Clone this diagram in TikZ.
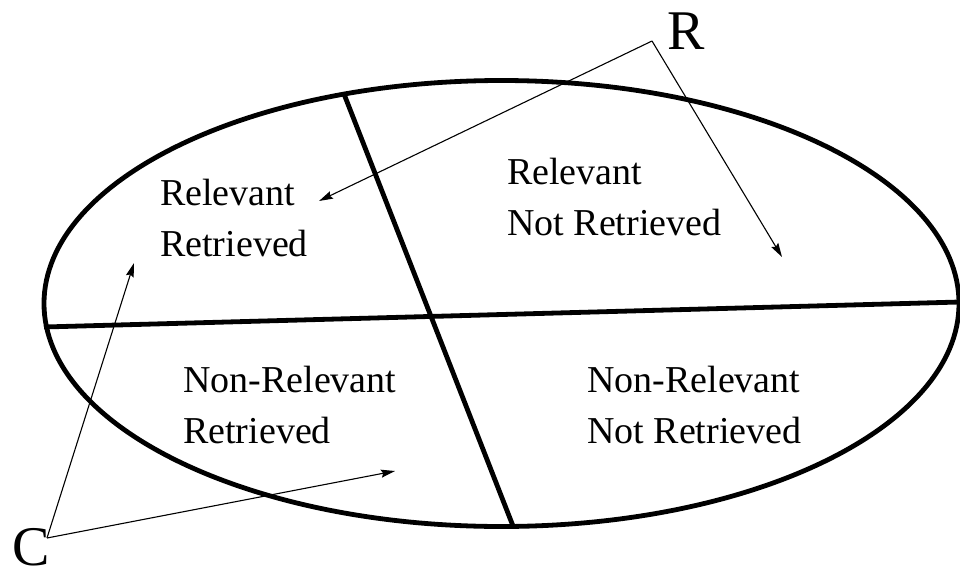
\documentclass[tikz,border=0pt]{standalone}
\usepackage{fontspec}
\setmainfont{Liberation Serif}
\usetikzlibrary{arrows.meta}
\tikzset{
  thickline/.style={line width=4.8pt},
  pointer/.style={line width=1.1pt,-{Stealth[length=14pt,width=8pt,inset=2pt]}},
  celltext/.style={anchor=base west,inner sep=0pt,align=left,font=\fontsize{38}{51}\selectfont},
  bigletter/.style={anchor=base west,inner sep=0pt,font=\fontsize{56}{60}\selectfont}
}
\begin{document}
\begin{tikzpicture}[x=1pt,y=-1pt]
\useasboundingbox (0,0) rectangle (960,578);
% ellipse
\draw[thickline] (501.5,303.5) ellipse [x radius=457.5, y radius=223];
% dividing lines
\coordinate (hl) at (44,327);
\coordinate (hr) at (960,302);
\coordinate (vt) at (344,94);
\coordinate (vb) at (513,526);
\draw[thickline] (hl) -- (hr);
\draw[thickline] (vt) -- (vb);
% cell labels (anchor at baseline of the last line)
\node[celltext] (rr) at (160,256) {Relevant\\Retrieved};
\node[celltext] (rnr) at (507,235) {Relevant\\Not Retrieved};
\node[celltext] (nrr) at (183,443) {Non-Relevant\\Retrieved};
\node[celltext] (nrnr) at (587,443) {Non-Relevant\\Not Retrieved};
% letters
\node[bigletter] (R) at (667,50) {R};
\node[bigletter] (C) at (12,565) {C};
% pointer vertices and targets
\coordinate (Rv) at (652,41);
\coordinate (Cv) at (47,538);
\coordinate (t1) at (319,201);
\coordinate (t2) at (782,257);
\coordinate (t3) at (134,263);
\coordinate (t4) at (395,471);
\draw[pointer] (Rv) -- (t1);
\draw[pointer] (Rv) -- (t2);
\draw[pointer] (Cv) -- (t3);
\draw[pointer] (Cv) -- (t4);
\end{tikzpicture}
\end{document}
